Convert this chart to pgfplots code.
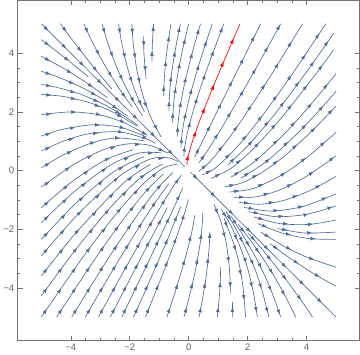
\documentclass[border=0pt]{standalone}
\usepackage{fontspec}
\setmainfont{Liberation Sans}
\usepackage{pgfplots}
\pgfplotsset{compat=1.18}
\usetikzlibrary{decorations.markings,arrows.meta}
\definecolor{scol}{RGB}{78,106,154}
\definecolor{frm}{gray}{0.45}
\definecolor{lab}{gray}{0.38}
\pgfplotsset{
  sl/.style={color=#1, line width=0.65pt, smooth, mark=none},
  sa/.style={draw=none, color=#1, sharp plot, mark=none,
    postaction={decorate},
    decoration={markings, mark=between positions 10pt and 1 step 25pt with {\arrow{Latex[length=5pt,width=3.6pt]}}}},
}
\newcommand{\sline}[2][scol]{\addplot[sl=#1] coordinates {#2};\addplot[sa=#1] coordinates {#2};}
\begin{document}
\begin{tikzpicture}
\begin{axis}[
  width=341.7pt, height=340pt, scale only axis,
  xmin=-5.8, xmax=5.8, ymin=-5.8, ymax=5.8,
  xtick={-4,-2,0,2,4}, ytick={-4,-2,0,2,4},
  xticklabels={−4,−2,0,2,4}, yticklabels={−4,−2,0,2,4},
  minor x tick num=3, minor y tick num=3,
  tick align=inside, major tick length=5pt, minor tick length=2.7pt,
  axis line style={frm, line width=0.6pt}, tick style={frm, line width=0.5pt},
  ticklabel style={font=\fontsize{9.5}{11}\selectfont, text=lab},
  xtick pos=both, ytick pos=both,
  xticklabel pos=lower, yticklabel pos=left,
]
% diagonal separatrix
\sline{(-5,5) (-2.5,2.5) (-0.12,0.12)}
\sline{(0.06,-0.06) (2.5,-2.5) (5,-5)}
% left wedge, from left edge
\sline{(-5,4.46) (-4.11,3.77) (-3.405,3.19)}
\sline{(-5,3.89) (-4.257,3.487) (-3.496,3.008) (-2.76,2.48)}
\sline{(-5,3.38) (-4.411,3.177) (-3.594,2.812) (-2.816,2.368) (-2.073,1.855)}
\sline{(-5,2.93) (-4.572,2.855) (-3.696,2.607) (-2.874,2.251) (-2.101,1.797) (-1.731,1.538)}
\sline{(-5,2.59) (-4.24,2.52) (-3.347,2.306) (-2.518,1.963) (-1.747,1.507)}
\sline{(-5,1.9) (-4.003,1.995) (-3.05,1.90) (-2.187,1.627) (-1.401,1.198)}
\sline{(-5,1.17) (-4.301,1.397) (-3.221,1.558) (-2.27,1.46) (-1.431,1.137)}
\sline{(-5,0.66) (-4.252,0.997) (-3.373,1.255) (-2.344,1.312) (-1.458,1.084) (-1.138,0.924)}
\sline{(-5,0.09) (-4.23,0.541) (-3.279,0.941) (-2.446,1.107) (-1.495,1.009)}
\sline{(-5,-0.57) (-3.897,0.205) (-2.899,0.702) (-2.047,0.907) (-1.323,0.855) (-0.705,0.59)}
\sline{(-5,-1.27) (-3.929,-0.359) (-2.818,0.363) (-1.899,0.703)}
\sline{(-5,-1.78) (-3.845,-0.691) (-2.661,0.178) (-1.707,0.587) (-0.949,0.603)}
\sline{(-5,-2.35) (-3.797,-1.093) (-2.513,-0.025) (-1.514,0.473)}
\sline{(-5,-2.91) (-3.737,-1.474) (-2.346,-0.193) (-1.307,0.386) (-0.685,0.43) (-0.353,0.294)}
\sline{(-5,-3.6) (-3.796,-2.092) (-2.219,-0.437) (-1.296,0.207)}
\sline{(-5,-4.28) (-3.877,-2.753) (-2.598,-1.197) (-1.616,-0.233) (-0.89,0.219)}
\sline{(-5,-5) (-3.556,-2.911) (-2.405,-1.409) (-1.517,-0.433) (-0.859,0.081) (-0.393,0.214)}
% from bottom edge, left part
\sline{(-4.48,-5) (-3.292,-3.185) (-2.262,-1.724) (-1.46,-0.721) (-0.861,-0.123)}
\sline{(-3.97,-5) (-2.827,-3.153) (-1.809,-1.617) (-1.057,-0.614) (-0.535,-0.07)}
\sline{(-3.51,-5) (-2.726,-3.651) (-1.848,-2.195) (-1.171,-1.143) (-0.676,-0.451)}
\sline{(-3.06,-5) (-2.332,-3.668) (-1.615,-2.385) (-0.88,-1.12) (-0.495,-0.505) (-0.246,-0.154)}
\sline{(-2.66,-5) (-2.097,-3.903) (-1.416,-2.584) (-0.729,-1.271)}
\sline{(-2.27,-5) (-1.858,-4.142) (-1.213,-2.787) (-0.575,-1.425) (-0.203,-0.597)}
\sline{(-1.87,-5) (-1.297,-3.703) (-0.698,-2.302) (-0.271,-1.229)}
\sline{(-1.47,-5) (-0.906,-3.594) (-0.495,-2.505) (-0.188,-1.612) (-0.008,-0.992)}
\sline{(-0.74,-5) (-0.435,-4.065) (-0.095,-2.905) (0.103,-2.103) (0.214,-1.514)}
\sline{(-0.16,-5) (0.076,-4.076) (0.256,-3.256) (0.401,-2.401) (0.471,-1.671) (0.476,-1.45)}
\sline{(0.35,-5) (0.455,-4.455) (0.595,-3.595) (0.689,-2.689) (0.72,-2.1)}
\sline{(0.97,-5) (1.02,-4.52) (1.055,-4.055) (1.078,-3.578) (1.082,-3.3)}
\sline{(1.48,-5) (1.489,-4.47)}
% lower wedge, descending
\sline{(0.86,-1.16) (1.106,-1.788) (1.27,-2.461) (1.374,-3.252) (1.408,-3.883) (1.414,-4.2)}
\sline{(1.193,-1.614) (1.614,-2.773) (1.825,-3.849) (1.93,-5)}
\sline{(1.096,-1.307) (1.495,-2.01) (1.936,-3.129) (2.187,-4.126) (2.33,-5)}
\sline{(1.264,-1.402) (1.68,-2.14) (2.168,-3.165) (2.476,-4.049) (2.72,-5)}
\sline{(1.436,-1.564) (1.87,-2.261) (2.399,-3.202) (2.822,-4.156) (3.12,-5)}
\sline{(1.68,-1.84) (2.221,-2.558) (2.789,-3.422) (3.318,-4.363) (3.63,-5)}
\sline{(2.028,-2.144) (2.593,-2.814) (3.205,-3.59) (3.798,-4.405) (4.2,-5)}
% right wedge
\sline{(0.346,0.254) (0.71,0.79) (1.278,1.722) (2.007,2.993) (2.545,3.955) (3.12,5)}
\sline{(0.334,-0.034) (0.712,0.288) (1.38,1.12) (2.191,2.309) (2.968,3.532) (3.86,5)}
\sline{(0.458,-0.158) (0.912,0.088) (1.668,0.832) (2.556,1.944) (3.594,3.406) (4.65,5)}
\sline{(1.318,0.182) (2.08,0.92) (2.991,2.009) (4.058,3.442) (4.919,4.681)}
\sline{(0.766,-0.266) (1.43,0.07) (2.227,0.773) (3.172,1.828) (4.27,3.23) (4.904,4.096)}
\sline{(1.43,-0.23) (2.215,0.285) (3.248,1.252) (4.192,2.308) (5,3.3)}
\sline{(1.765,-0.265) (2.669,0.331) (3.714,1.286) (4.44,2.06) (5,2.7)}
\sline{(1.22,-0.559) (1.785,-0.429) (2.456,-0.087) (3.246,0.491) (4.164,1.329) (5,2.2)}
\sline{(1.382,-0.736) (2.192,-0.615) (3.179,-0.141) (4.03,0.461) (5,1.3)}
\sline{(1.544,-0.912) (2.3,-0.898) (3.187,-0.625) (4.075,-0.151) (5,0.5)}
\sline{(1.707,-1.086) (2.424,-1.151) (3.241,-1.017) (4.17,-0.661) (5,-0.2)}
\sline{(1.871,-1.258) (2.807,-1.386) (3.888,-1.225) (5,-0.8)}
\sline{(2.046,-1.407) (2.962,-1.575) (4.002,-1.496) (5,-1.21)}
\sline{(2.208,-1.584) (3.094,-1.812) (4.08,-1.84) (5,-1.69)}
\sline{(3.01,-1.98) (3.933,-2.133) (5,-2.1)}
\sline{(2.344,-1.812) (3.18,-2.139) (4.089,-2.323) (5,-2.35)}
\sline{(2.447,-2.106) (3.213,-2.573) (4.019,-2.962) (5,-3.3)}
\sline{(2.754,-2.492) (3.486,-3.029) (4.24,-3.519) (5,-3.95)}
% upper wedge, from top going down
\sline{(-4.35,5) (-3.994,4.511) (-3.541,3.917) (-3.08,3.34) (-2.61,2.78)}
\sline{(-3.56,5) (-3.29,4.42) (-3.032,3.927) (-2.772,3.456) (-2.497,3.007) (-2.212,2.577) (-1.917,2.165)}
\sline{(-2.94,5) (-2.777,4.446) (-2.573,3.855) (-2.348,3.303) (-2.105,2.789) (-1.845,2.31) (-1.568,1.863)}
\sline{(-2.38,5) (-2.287,4.425) (-2.136,3.729) (-1.953,3.093) (-1.741,2.517) (-1.503,1.995)}
\sline{(-1.93,5) (-1.874,4.252) (-1.766,3.469) (-1.614,2.773) (-1.422,2.156) (-1.193,1.614) (-0.932,1.137)}
\sline{(-1.53,4.57) (-1.517,3.966) (-1.444,3.111)}
% upper wedge, going up
\sline{(-1.247,3.737) (-1.243,4.015) (-1.221,4.557) (-1.19,5)}
\sline{(-0.847,2.541) (-0.842,2.817) (-0.81,3.38) (-0.746,4.007) (-0.649,4.703) (-0.6,5)}
\sline{(-0.674,2.022) (-0.659,2.482) (-0.606,3.089) (-0.51,3.779) (-0.403,4.395) (-0.28,5)}
\sline{(-0.543,1.629) (-0.535,1.93) (-0.483,2.533) (-0.379,3.241) (-0.219,4.062) (0,5)}
\sline{(-0.386,1.157) (-0.367,1.566) (-0.28,2.24) (-0.115,3.07) (0.135,4.071) (0.4,5)}
\sline{(-0.259,0.776) (-0.24,1.121) (-0.154,1.693) (0.063,2.625) (0.413,3.827) (0.8,5)}
\sline{(-0.16,0.481) (-0.148,0.705) (-0.036,1.328) (0.207,2.215) (0.6,3.4) (1.19,5)}
\sline{(0.2,0.448) (0.315,0.685) (0.972,2.028) (1.666,3.434) (2.44,5)}
% highlighted stream line
\sline[red]{(-0.061,0.183) (-0.052,0.302) (-0.012,0.512) (0.097,0.903) (0.355,1.645) (0.634,2.366) (0.922,3.078) (1.217,3.783) (1.517,4.483) (1.74,5)}
\end{axis}
\end{tikzpicture}
\end{document}
